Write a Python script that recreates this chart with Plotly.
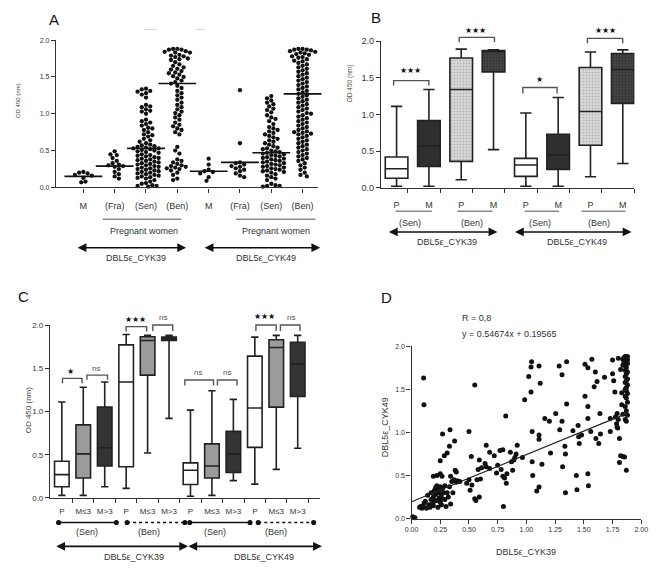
import plotly.graph_objects as go

W, H = 661, 572
FONT = "Liberation Sans, Arial, sans-serif"
INK = "#222222"


def px(x):
    return x / W


def py(y):
    return 1 - y / H


# ---------------- Panel A data (OD 450 per individual) ----------------
a_labels = ["M", "(Fra)", "(Sen)", "(Ben)", "M", "(Fra)", "(Sen)", "(Ben)"]
a_cyk39_m = [0.21, 0.20, 0.19, 0.17, 0.16, 0.13, 0.08, 0.07]
a_cyk39_fra = [0.49, 0.45, 0.44, 0.40, 0.36, 0.33, 0.31, 0.30, 0.29, 0.28, 0.25, 0.21, 0.18, 0.15, 0.12]
a_cyk39_sen = [1.34, 1.33, 1.31, 1.30, 1.28, 1.26, 1.22, 1.12, 1.10, 1.09, 1.06, 1.04, 1.03, 1.00, 0.92,
               0.90, 0.88, 0.86, 0.84, 0.81, 0.80, 0.78, 0.75, 0.72, 0.71, 0.69, 0.66, 0.64, 0.62, 0.60,
               0.58, 0.57, 0.56, 0.55, 0.54, 0.53, 0.53, 0.52, 0.51, 0.50, 0.49, 0.48, 0.47,
               0.45, 0.44, 0.43, 0.42, 0.41, 0.40, 0.39, 0.38, 0.37, 0.36, 0.35, 0.34,
               0.33, 0.32, 0.31, 0.30, 0.29, 0.28, 0.27, 0.26, 0.25, 0.24, 0.23, 0.22, 0.21,
               0.20, 0.19, 0.18, 0.17, 0.16, 0.15, 0.14, 0.13, 0.12, 0.10, 0.08, 0.06, 0.05, 0.03, 0.02,
               0.02, 0.01]
a_cyk39_ben = [1.88, 1.88, 1.87, 1.87, 1.85, 1.84, 1.83, 1.83, 1.80, 1.79, 1.78, 1.77, 1.75, 1.74, 1.73,
               1.70, 1.67, 1.65, 1.63, 1.61, 1.60, 1.58, 1.56, 1.55, 1.53, 1.51, 1.50, 1.48, 1.45, 1.43, 1.41,
               1.38, 1.35, 1.31, 1.28, 1.25, 1.22, 1.19, 1.15, 1.12, 1.09, 1.06, 1.03, 1.01, 0.98, 0.95,
               0.92, 0.88, 0.85, 0.83, 0.80, 0.78, 0.75, 0.72,
               0.55, 0.50, 0.46,
               0.38, 0.36, 0.34, 0.32, 0.30, 0.29, 0.28, 0.27, 0.26, 0.25, 0.23, 0.20, 0.17, 0.12, 0.10]
a_cyk49_m = [0.39, 0.31, 0.24, 0.22, 0.21, 0.19, 0.14, 0.09]
a_cyk49_fra = [1.32, 0.60, 0.34, 0.33, 0.31, 0.29, 0.28, 0.26, 0.24, 0.22, 0.19, 0.16, 0.14]
a_cyk49_sen = [1.24, 1.21, 1.18, 1.15, 1.13, 1.10, 1.07, 1.05, 1.02, 0.98, 0.95, 0.93, 0.90, 0.86, 0.82,
               0.80, 0.78, 0.76, 0.74, 0.72, 0.70, 0.68, 0.66, 0.64, 0.62, 0.60, 0.58,
               0.56, 0.54, 0.53, 0.52, 0.50, 0.49, 0.48, 0.47, 0.46, 0.45, 0.44, 0.43, 0.42, 0.41, 0.40,
               0.39, 0.38, 0.37, 0.36, 0.35, 0.34, 0.33, 0.32, 0.31, 0.30, 0.29, 0.28, 0.27, 0.26, 0.25,
               0.24, 0.23, 0.22, 0.21, 0.20, 0.18, 0.16, 0.14, 0.12, 0.10,
               0.05, 0.03, 0.02, 0.02, 0.01]
a_cyk49_ben = [1.88, 1.88, 1.87, 1.87, 1.86, 1.85, 1.84, 1.83, 1.82, 1.81, 1.80, 1.78, 1.77, 1.76,
               1.74, 1.72, 1.71, 1.69, 1.67, 1.65, 1.63, 1.61,
               1.59, 1.57, 1.55, 1.53, 1.51, 1.49, 1.47, 1.45, 1.43, 1.41, 1.39, 1.37,
               1.35, 1.33, 1.31, 1.29, 1.27, 1.25,
               1.23, 1.21, 1.19, 1.17, 1.15, 1.13, 1.11, 1.09, 1.07, 1.05, 1.03, 1.01, 1.00, 0.98, 0.96,
               0.94, 0.92, 0.90,
               0.88, 0.86, 0.84, 0.82, 0.80, 0.78, 0.76, 0.75, 0.74, 0.73, 0.72, 0.70, 0.68, 0.66, 0.64,
               0.62, 0.60, 0.58, 0.56, 0.54, 0.52, 0.50,
               0.48, 0.46, 0.44, 0.42, 0.40, 0.38, 0.36, 0.33, 0.30, 0.27, 0.24, 0.20, 0.17, 0.15]
a_groups = [a_cyk39_m, a_cyk39_fra, a_cyk39_sen, a_cyk39_ben,
            a_cyk49_m, a_cyk49_fra, a_cyk49_sen, a_cyk49_ben]
a_means = [0.15, 0.29, 0.53, 1.41, 0.22, 0.34, 0.47, 1.27]

# ---------------- Panel B data (box summaries) ----------------
b_labels = ["P", "M", "P", "M", "P", "M", "P", "M"]
b_lf = [0.02, 0.02, 0.11, 0.52, 0.02, 0.02, 0.15, 0.33]
b_q1 = [0.13, 0.29, 0.36, 1.58, 0.155, 0.25, 0.58, 1.15]
b_med = [0.26, 0.57, 1.34, 1.86, 0.31, 0.45, 1.04, 1.61]
b_q3 = [0.42, 0.915, 1.77, 1.87, 0.40, 0.73, 1.64, 1.83]
b_uf = [1.11, 1.34, 1.89, 1.88, 1.02, 1.23, 1.85, 1.88]
b_style = ["white", "dark", "light_dots", "dark_dots", "white", "dark", "light_dots", "dark_dots"]

# ---------------- Panel C data (box summaries) ----------------
c_labels = ["P", "M≤3", "M>3", "P", "M≤3", "M>3", "P", "M≤3", "M>3", "P", "M≤3", "M>3"]
c_lf = [0.03, 0.03, 0.13, 0.11, 0.52, 0.92, 0.02, 0.03, 0.20, 0.16, 0.33, 0.575]
c_q1 = [0.13, 0.23, 0.37, 0.36, 1.42, 1.82, 0.155, 0.23, 0.295, 0.585, 1.05, 1.175]
c_med = [0.27, 0.51, 0.58, 1.34, 1.82, 1.84, 0.32, 0.37, 0.51, 1.04, 1.74, 1.55]
c_q3 = [0.425, 0.845, 1.05, 1.77, 1.865, 1.86, 0.405, 0.625, 0.77, 1.64, 1.83, 1.80]
c_uf = [1.11, 1.28, 1.34, 1.89, 1.88, 1.88, 1.015, 1.24, 1.14, 1.86, 1.88, 1.88]
c_style = ["white", "grey", "dark"] * 4

# ---------------- Panel D data (CYK39 vs CYK49) ----------------
d_pairs = [
    (0.01, 0.02), (0.03, 0.01),
    (0.07, 0.13), (0.08, 0.14), (0.09, 0.12), (0.10, 0.15), (0.11, 0.18), (0.12, 0.20), (0.13, 0.12),
    (0.14, 0.27), (0.15, 0.16), (0.16, 0.13), (0.17, 0.22), (0.18, 0.17), (0.19, 0.25), (0.19, 0.15),
    (0.20, 0.33), (0.21, 0.36), (0.21, 0.28), (0.22, 0.21), (0.22, 0.38), (0.23, 0.30), (0.23, 0.13),
    (0.24, 0.34), (0.24, 0.24), (0.25, 0.19), (0.25, 0.37), (0.26, 0.28), (0.26, 0.16), (0.27, 0.35),
    (0.27, 0.23), (0.28, 0.30), (0.29, 0.22), (0.29, 0.38), (0.30, 0.14), (0.31, 0.30), (0.32, 0.25),
    (0.33, 0.37), (0.34, 0.17), (0.35, 0.43), (0.36, 0.30), (0.37, 0.45), (0.39, 0.42), (0.40, 0.44),
    (0.42, 0.43), (0.22, 0.50), (0.19, 0.49), (0.24, 0.31), (0.20, 0.20), (0.17, 0.30),
    (0.105, 1.63), (0.108, 1.32), (0.27, 0.98), (0.335, 1.03), (0.375, 0.90), (0.50, 1.01), (0.33, 0.84),
    (0.31, 0.76), (0.285, 0.73), (0.25, 0.67), (0.25, 0.52), (0.265, 0.49), (0.34, 0.49), (0.38, 0.56),
    (0.39, 0.54), (0.55, 1.55),
    (0.48, 0.41), (0.50, 0.45), (0.51, 0.33), (0.52, 0.72), (0.525, 0.39), (0.55, 0.23), (0.56, 0.21),
    (0.57, 0.45), (0.58, 0.57), (0.59, 0.25), (0.60, 0.46), (0.61, 0.59), (0.64, 0.64), (0.65, 0.60),
    (0.59, 0.68), (0.68, 0.58), (0.68, 0.77), (0.65, 0.85), (0.72, 0.73), (0.74, 0.53), (0.75, 0.62),
    (0.77, 0.79), (0.78, 0.57), (0.795, 0.80), (0.795, 0.49), (0.80, 0.14), (0.81, 0.47), (0.82, 1.19),
    (0.825, 0.41), (0.83, 0.52), (0.86, 0.77), (0.87, 0.66), (0.88, 0.56), (0.89, 0.68), (0.90, 0.71),
    (0.91, 0.75), (0.92, 0.85), (0.965, 0.71), (0.985, 1.38),
    (1.02, 1.65), (1.04, 1.76), (1.045, 1.82), (1.04, 1.47), (1.05, 1.01), (1.05, 0.66), (1.055, 0.50),
    (1.09, 0.32), (1.11, 0.365), (1.11, 1.77), (1.12, 1.57), (1.11, 0.97), (1.11, 0.92), (1.135, 0.63),
    (1.16, 1.16), (1.20, 1.13), (1.21, 0.76), (1.255, 1.22), (1.285, 1.77), (1.29, 1.03), (1.31, 1.67),
    (1.31, 1.13), (1.315, 0.60), (1.335, 0.84), (1.34, 0.75), (1.35, 1.33), (1.35, 1.82), (1.34, 0.30),
    (1.405, 1.02), (1.435, 0.50), (1.44, 0.335), (1.45, 1.08), (1.455, 0.95), (1.46, 0.87), (1.48, 0.97),
    (1.51, 1.79), (1.51, 1.42), (1.535, 1.75), (1.535, 1.30), (1.535, 1.16), (1.535, 0.52), (1.54, 0.38),
    (1.56, 1.01), (1.57, 1.85), (1.59, 1.53), (1.60, 1.70), (1.615, 1.59), (1.605, 0.93), (1.63, 0.87),
    (1.64, 1.22), (1.645, 0.98), (1.68, 1.64), (1.73, 1.01), (1.73, 1.16), (1.75, 1.84), (1.75, 1.68),
    (1.76, 1.60), (1.77, 1.47), (1.785, 1.10), (1.775, 1.18), (1.79, 1.06), (1.79, 1.22), (1.795, 1.05),
    (1.80, 1.15), (1.81, 0.93), (1.81, 0.65), (1.82, 0.73), (1.80, 1.86), (1.82, 1.73), (1.83, 1.46),
    (1.83, 1.32), (1.84, 1.21), (1.84, 0.72), (1.855, 0.715), (1.87, 0.56),
    (1.86, 1.88), (1.87, 1.87), (1.88, 1.88), (1.86, 1.86), (1.87, 1.85), (1.88, 1.84), (1.86, 1.83),
    (1.85, 1.82), (1.87, 1.81), (1.88, 1.80), (1.86, 1.78), (1.87, 1.75), (1.86, 1.72), (1.88, 1.70),
    (1.87, 1.68), (1.86, 1.65), (1.88, 1.62), (1.87, 1.60), (1.86, 1.58), (1.88, 1.55), (1.87, 1.52),
    (1.86, 1.50), (1.87, 1.48), (1.88, 1.45), (1.86, 1.42), (1.87, 1.40), (1.88, 1.35), (1.86, 1.30),
    (1.87, 1.25), (1.88, 1.20), (1.86, 1.15), (1.87, 1.13), (1.85, 1.87), (1.84, 1.85), (1.85, 1.80),
    (1.84, 1.78),
]
d_x = [p[0] for p in d_pairs]
d_y = [p[1] for p in d_pairs]
d_slope, d_intercept = 0.54674, 0.19565
d_line_x = [0.0, 1.87]

# ---------------- geometry (pixel layout of the four panels) ----------------
A_dom_x = [50 / W, 318 / W]
A_dom_y = [py(185.7), py(35.7)]
A_xr = [0.125, 8.5]
B_dom_x = [382 / W, 641 / W]
B_dom_y = [py(186), py(36.7)]
B_xr = [0.515, 8.36]
C_dom_x = [44 / W, 320 / W]
C_dom_y = [py(501.7), py(325.7)]
C_xr = [0.452, 13.05]
D_dom_x = [413.3 / W, 648 / W]
D_dom_y = [py(522.7), py(347.3)]


def swarm(vals, x_px_per_unit, y_px_per_unit, d):
    placed = []
    res = [0.0] * len(vals)
    order = sorted(range(len(vals)), key=lambda i: -vals[i])
    for n, i in enumerate(order):
        yv = vals[i] * y_px_per_unit
        sgn = 1 if n % 2 == 0 else -1
        cands = [0.0]
        for j in range(1, 80):
            cands += [sgn * j * d * 0.5, -sgn * j * d * 0.5]
        for c in cands:
            if all((c - a) ** 2 + (yv - b) ** 2 >= d * d * 0.85 for a, b in placed):
                break
        placed.append((c, yv))
        res[i] = c / x_px_per_unit
    return res


fig = go.Figure()

# ---- Panel A: dot plots
A_xppu = (A_dom_x[1] - A_dom_x[0]) * W / (A_xr[1] - A_xr[0])
A_yppu = (185.7 - 35.7) / 2.0
ax_all, ay_all = [], []
for k, grp in enumerate(a_groups):
    offs = swarm(grp, A_xppu, A_yppu, 4.3)
    ax_all += [k + 1 + o for o in offs]
    ay_all += grp
fig.add_trace(go.Scatter(x=ax_all, y=ay_all, mode="markers", xaxis="x", yaxis="y",
                         marker=dict(size=4.3, color="#111111"), cliponaxis=False,
                         hoverinfo="skip", showlegend=False))
fig.add_trace(go.Scatter(x=list(range(1, 9)), y=a_means, mode="markers", xaxis="x", yaxis="y",
                         marker=dict(symbol="line-ew", size=27, line=dict(width=1.6, color="#111111")),
                         cliponaxis=False, hoverinfo="skip", showlegend=False))

# ---- Panel B: box plots
b_fill = {"white": "white", "dark": "#2f2f2f", "light_dots": "rgba(0,0,0,0)", "dark_dots": "rgba(0,0,0,0)"}
for style in ["white", "dark", "light_dots", "dark_dots"]:
    idx = [i for i, s in enumerate(b_style) if s == style]
    xs = [i + 1 for i in idx]
    if style in ("light_dots", "dark_dots"):
        bg = "#dcdcdc" if style == "light_dots" else "#454545"
        fg = "#8a8a8a" if style == "light_dots" else "#1e1e1e"
        fig.add_trace(go.Bar(x=xs, y=[b_q3[i] - b_q1[i] for i in idx], base=[b_q1[i] for i in idx],
                             width=0.7, xaxis="x2", yaxis="y2", hoverinfo="skip", showlegend=False,
                             marker=dict(color=bg, line=dict(width=0),
                                         pattern=dict(shape=".", fgcolor=fg, size=3, solidity=0.35,
                                                      fillmode="overlay"))))
    fig.add_trace(go.Box(x=xs, q1=[b_q1[i] for i in idx], median=[b_med[i] for i in idx],
                         q3=[b_q3[i] for i in idx], lowerfence=[b_lf[i] for i in idx],
                         upperfence=[b_uf[i] for i in idx], width=0.7, whiskerwidth=0.5,
                         fillcolor=b_fill[style], line=dict(color=INK, width=1.6),
                         xaxis="x2", yaxis="y2", hoverinfo="skip", showlegend=False))

# ---- Panel C: box plots
c_fill = {"white": "white", "grey": "#9b9b9b", "dark": "#343434"}
for style in ["white", "grey", "dark"]:
    idx = [i for i, s in enumerate(c_style) if s == style]
    fig.add_trace(go.Box(x=[i + 1 for i in idx], q1=[c_q1[i] for i in idx],
                         median=[c_med[i] for i in idx], q3=[c_q3[i] for i in idx],
                         lowerfence=[c_lf[i] for i in idx], upperfence=[c_uf[i] for i in idx],
                         width=0.68, whiskerwidth=0.5, fillcolor=c_fill[style],
                         line=dict(color=INK, width=1.6), xaxis="x3", yaxis="y3",
                         hoverinfo="skip", showlegend=False))

# ---- Panel D: scatter + regression
fig.add_trace(go.Scatter(x=d_x, y=d_y, mode="markers", xaxis="x4", yaxis="y4",
                         marker=dict(size=5, color="#111111"), cliponaxis=False,
                         hoverinfo="skip", showlegend=False))
fig.add_trace(go.Scatter(x=d_line_x, y=[d_slope * v + d_intercept for v in d_line_x], mode="lines",
                         xaxis="x4", yaxis="y4", line=dict(color="#222222", width=1.2),
                         hoverinfo="skip", showlegend=False))

# ---------------- axes ----------------
base_ax = dict(showline=True, linecolor="#333333", linewidth=1.3, showgrid=False, zeroline=False,
               ticks="outside", ticklen=4, tickcolor="#333333", tickwidth=1.2)
yticks = [0, 0.5, 1.0, 1.5, 2.0]

fig.update_layout(
    xaxis=dict(base_ax, domain=A_dom_x, range=A_xr, anchor="y", tickvals=list(range(1, 9)),
               ticktext=a_labels, tickfont=dict(size=9, color="#333"), ticklabelstandoff=6),
    yaxis=dict(base_ax, domain=A_dom_y, range=[0, 2.0], anchor="x", tickvals=yticks, tickformat=".1f",
               tickfont=dict(size=7, color="#333")),
    xaxis2=dict(base_ax, domain=B_dom_x, range=B_xr, anchor="y2", tickvals=list(range(1, 9)),
                ticktext=b_labels, ticks="", tickfont=dict(size=9, color="#333"), ticklabelstandoff=8,
                minor=dict(tickvals=[k + 0.35 for k in range(1, 9)], ticks="outside", ticklen=4,
                           tickcolor="#333333", tickwidth=1.2)),
    yaxis2=dict(base_ax, domain=B_dom_y, range=[0, 2.0], anchor="x2", tickvals=yticks, tickformat=".1f",
                tickfont=dict(size=9, color="#333")),
    xaxis3=dict(base_ax, domain=C_dom_x, range=C_xr, anchor="y3", tickvals=list(range(1, 13)),
                ticktext=c_labels, ticks="", tickfont=dict(size=8, color="#333"), ticklabelstandoff=5,
                minor=dict(tickvals=[k + 0.5 for k in range(1, 13)], ticks="outside", ticklen=4,
                           tickcolor="#333333", tickwidth=1.2)),
    yaxis3=dict(base_ax, domain=C_dom_y, range=[0, 2.0], anchor="x3", tickvals=yticks, tickformat=".1f",
                tickfont=dict(size=8, color="#333")),
    xaxis4=dict(base_ax, domain=D_dom_x, range=[0, 2.0], anchor="y4",
                tickvals=[0, 0.25, 0.5, 0.75, 1.0, 1.25, 1.5, 1.75, 2.0], tickformat=".2f",
                tickfont=dict(size=7, color="#333")),
    yaxis4=dict(base_ax, domain=D_dom_y, range=[0, 2.0], anchor="x4", tickvals=yticks, tickformat=".1f",
                tickfont=dict(size=7, color="#333")),
)

# ---------------- decorations ----------------
shapes = []
annots = []


def text(x, y, s, size=9, color="#333333", angle=0, xanchor="center"):
    annots.append(dict(x=px(x), y=py(y), xref="paper", yref="paper", text=s, showarrow=False,
                       font=dict(size=size, color=color, family=FONT), textangle=angle,
                       xanchor=xanchor, yanchor="middle"))


def hline(x0, x1, y, color="#8a8a8a", width=1.5, dash=None):
    ln = dict(color=color, width=width)
    if dash:
        ln["dash"] = dash
    shapes.append(dict(type="line", xref="paper", yref="paper", x0=px(x0), x1=px(x1),
                       y0=py(y), y1=py(y), line=ln))


def arrow(x0, x1, y):
    annots.append(dict(x=px(x1), y=py(y), xref="paper", yref="paper", ax=-(x1 - x0), ay=0,
                       text="", showarrow=True, arrowhead=2, arrowside="end+start", arrowsize=1.1,
                       arrowwidth=1.6, arrowcolor="#111111"))


def bracket(x0, x1, ytop, ybot, color="#555555"):
    shapes.append(dict(type="path", xref="paper", yref="paper",
                       path=f"M {px(x0)},{py(ybot)} L {px(x0)},{py(ytop)} L {px(x1)},{py(ytop)} L {px(x1)},{py(ybot)}",
                       line=dict(color=color, width=1.4)))


def dot(x, y, r=2.6):
    shapes.append(dict(type="circle", xref="paper", yref="paper", x0=px(x - r), x1=px(x + r),
                       y0=py(y + r), y1=py(y - r), fillcolor="#111111", line=dict(width=0)))


# panel letters
text(48, 15, "A", 15, "#111111")
text(377, 13, "B", 15, "#111111")
text(17, 297, "C", 15, "#111111")
text(388, 298, "D", 15, "#111111")

# axis titles
text(12, 97, "OD 450 (nm)", 6, "#444444", -90)
text(350, 80, "OD 450 (nm)", 6.5, "#5a4e44", -90)
text(22, 412, "OD 450 (nm)", 8, "#444444", -90)
text(387, 430, "DBL5ε_CYK49", 9, "#333333", -90)
text(530, 557, "DBL5ε_CYK39", 9, "#333333")

# panel A faint top dashes
hline(140, 153, 25, "#d0d0d0", 1)
hline(193, 202, 25, "#d0d0d0", 1)

# panel A group annotations
hline(98, 178, 218)
hline(234, 315, 218)
text(140, 230, "Pregnant women", 9)
text(275, 230, "Pregnant women", 9)
arrow(73, 183, 247)
arrow(203, 320, 247)
text(132, 257, "DBL5ε_CYK39", 9)
text(265, 258, "DBL5ε_CYK49", 9)

# panel B group annotations
hline(397, 434, 210)
hline(460, 496, 210)
hline(529, 564, 210)
hline(587, 632, 210)
text(412, 222, "(Sen)", 9)
text(475, 222, "(Ben)", 9)
text(545, 222, "(Sen)", 9)
text(605, 222, "(Ben)", 9)
arrow(391, 501, 231)
arrow(520, 638, 231)
text(450, 241, "DBL5ε_CYK39", 9)
text(582, 241, "DBL5ε_CYK49", 9)

# panel B significance
bracket(395, 431, 77, 82)
text(412, 67, "★★★", 8, "#111111")
bracket(462, 498, 33, 38)
text(479, 26, "★★★", 8, "#111111")
bracket(527, 562, 84, 90)
text(544, 76, "★", 8, "#111111")
bracket(593, 629, 34, 39)
text(611, 26, "★★★", 8, "#111111")

# panel C significance
bracket(56.7, 76.7, 380, 385)
text(65, 372.7, "★", 8, "#111111")
bracket(81.7, 102.7, 376.7, 381.5)
text(91, 369.5, "ns", 8, "#555555")
bracket(121.7, 142.7, 327.3, 332.3)
text(131.7, 320, "★★★", 8, "#111111")
bracket(149, 169.3, 325.7, 331.7)
text(159.3, 318.3, "ns", 8, "#555555")
bracket(181.7, 211, 381.7, 387.3)
text(195, 374, "ns", 8, "#555555")
bracket(215, 235, 381.7, 387.3)
text(224.3, 374, "ns", 8, "#555555")
bracket(254.3, 275, 325.7, 331.7)
text(263.3, 317.3, "★★★", 8, "#111111")
bracket(279.3, 299.3, 325.7, 331.7)
text(290, 318.3, "ns", 8, "#555555")

# panel C group annotations (dumbbells)
for (x0, x1, dsh) in [(52.7, 111.7, None), (122.7, 181.7, "dot"), (186.7, 248.3, None), (256.7, 313.3, "dot")]:
    hline(x0, x1, 526.7, "#111111", 1.3, dsh)
    dot(x0, 526.7)
    dot(x1, 526.7)
text(81.7, 536, "(Sen)", 9)
text(145, 536, "(Ben)", 9)
text(213, 536, "(Sen)", 9)
text(275, 536, "(Ben)", 9)
arrow(51.7, 185, 551)
arrow(186.7, 321.7, 551)
text(130, 562, "DBL5ε_CYK39", 9)
text(263, 562, "DBL5ε_CYK49", 9)

# panel D texts
text(463, 319, "R = 0,8", 9, "#333333", xanchor="left")
text(463, 335, "y = 0.54674x + 0.19565", 9, "#333333", xanchor="left")

fig.update_layout(
    width=W, height=H, margin=dict(l=0, r=0, t=0, b=0), autosize=False,
    paper_bgcolor="white", plot_bgcolor="white", showlegend=False,
    boxmode="overlay", barmode="overlay",
    font=dict(family=FONT, color="#333333"),
    shapes=shapes, annotations=annots,
)

fig.write_html("out.html", config={"displayModeBar": False},
               post_script="document.body.style.margin='0px';document.body.style.overflow='hidden';")
